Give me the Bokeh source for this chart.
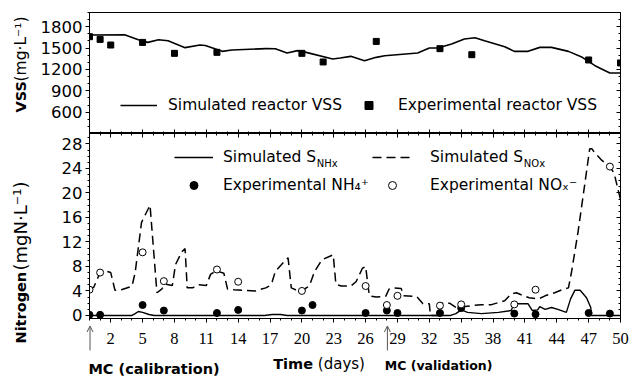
from math import pi

from bokeh.embed import file_html
from bokeh.layouts import column, row
from bokeh.models import (Arrow, FixedTicker, Label, Legend, LegendItem,
                          LinearAxis, OpenHead, Range1d)
from bokeh.plotting import figure
from bokeh.resources import INLINE

# ---------------- data ----------------
# reactor VSS (mg/L)
sim_vss_day = [0, 3.3, 4.6, 5.5, 6.5, 7.4, 9.0, 10.4, 10.9, 12.5, 13.4, 16.6,
               17.5, 18.6, 19.6, 20.4, 22.9, 23.6, 24.6, 25.9, 27.0, 27.8,
               30.9, 32.0, 32.8, 34.1, 35.3, 36.3, 37.2, 39.1, 40.0, 41.3,
               42.4, 43.5, 45.1, 46.4, 47.6, 49.0, 50]
sim_vss = [1684, 1688, 1618, 1580, 1618, 1604, 1506, 1543, 1536, 1454, 1473,
           1492, 1490, 1431, 1464, 1440, 1347, 1360, 1384, 1323, 1370, 1392,
           1431, 1501, 1501, 1557, 1627, 1646, 1604, 1520, 1454, 1454, 1510,
           1510, 1454, 1370, 1253, 1151, 1151]
exp_vss_day = [0, 1, 2, 5, 8, 12, 20, 22, 27, 33, 36, 47, 50]
exp_vss = [1660, 1622, 1543, 1580, 1426, 1440, 1426, 1305, 1594, 1492, 1407,
           1333, 1291]

# simulated nitrate/nitrite S_NOx (mgN/L)
snox_day = [0, 0.4, 0.8, 1.0, 1.6, 2.0, 2.4, 3.0, 4.0, 4.3, 4.9, 5.7, 6.35,
            6.8, 7.1, 7.8, 8.1, 8.7, 9.0, 9.2, 9.7, 10.3, 11.0, 11.4, 11.9,
            12.65, 13.0, 13.6, 15.6, 16.6, 16.9, 17.2, 17.5, 18.5, 18.7, 19.0,
            19.4, 20.05, 20.4, 20.7, 21.2, 21.9, 22.95, 23.2, 23.7, 24.6, 25.1,
            25.7, 26.0, 26.35, 27.0, 27.9, 28.2, 28.5, 29.35, 29.6, 30.8, 31.4,
            32.0, 32.1, 32.9, 33.0, 33.9, 34.5, 35.1, 36.0, 36.9, 37.85, 38.5,
            39.1, 39.7, 40.2, 40.9, 41.4, 42.3, 42.9, 43.8, 44.6, 45.1, 45.4,
            46.0, 46.65, 47.1, 47.3, 47.6, 48.25, 49.0, 49.4, 50]
snox = [4.3, 4.6, 6.2, 7.0, 7.2, 7.0, 4.1, 4.2, 4.75, 7.0, 15.2, 18.0, 3.7,
        4.3, 5.1, 4.9, 8.3, 10.4, 10.9, 4.5, 4.5, 5.0, 4.9, 6.7, 7.3, 6.9,
        4.3, 4.2, 4.0, 4.5, 4.8, 5.5, 7.2, 9.1, 9.4, 4.5, 4.2, 3.9, 4.5, 4.8,
        7.2, 9.1, 9.9, 5.1, 4.8, 4.8, 5.5, 7.7, 8.0, 3.2, 3.0, 3.15, 4.27, 4.5,
        4.4, 3.2, 3.1, 1.9, 1.9, 0.0, 0.0, 2.0, 2.0, 1.3, 1.4, 1.6, 1.76, 1.76,
        2.1, 2.4, 3.5, 3.7, 3.2, 2.9, 2.7, 3.2, 3.7, 4.27, 4.5, 7.2, 13.6,
        21.6, 27.2, 27.2, 26.5, 25.3, 24.3, 23.2, 18.9]

# simulated ammonium S_NHx (mgN/L)
snhx_day = [0, 4.0, 4.3, 4.6, 5.0, 5.6, 6.1, 16.5, 17.2, 18.0, 18.6, 34.0,
            34.5, 35.0, 35.6, 36.9, 38.5, 39.7, 40.0, 41.3, 41.7, 42.2, 42.4,
            42.9, 43.5, 44.1, 44.9, 45.3, 45.7, 46.2, 46.8, 47.2, 47.25, 50]
snhx = [0, 0, 0.3, 0.64, 0.5, 0.15, 0, 0, 0.15, 0.15, 0, 0, 0.3, 0.9, 0.5,
        0.3, 0.5, 0.8, 1.9, 1.9, 0.8, 0.9, 1.44, 1.0, 1.3, 1.0, 0.5, 2.7, 4.1,
        4.1, 2.9, 1.3, 0, 0]

# measured NH4+ and NOx- (mgN/L)
exp_nh4_day = [0, 1, 5, 7, 12, 14, 20, 21, 26, 28, 29, 33, 35, 40, 42, 47, 49]
exp_nh4 = [0.1, 0.1, 1.7, 0.8, 0.4, 0.9, 0.8, 1.7, 0.4, 0.8, 0.4, 0.4, 1.2,
           0.3, 0.2, 0.4, 0.3]
exp_nox_day = [0, 1, 5, 7, 12, 14, 20, 26, 28, 29, 33, 35, 40, 42, 49]
exp_nox = [4.2, 7.0, 10.3, 5.6, 7.5, 5.5, 4.0, 4.8, 1.7, 3.2, 1.6, 1.8, 1.8,
           4.2, 24.3]

# model calibration / validation start days
mc_days = [0, 28]

# axis ticks
day_ticks = list(range(2, 51, 3))
day_minor = list(range(0, 51))
day_labels = [str(d) for d in day_ticks]
vss_ticks = [600, 900, 1200, 1500, 1800]
vss_minor = list(range(300, 2001, 100))
n_ticks = list(range(0, 29, 4))
n_minor = list(range(0, 30))

FONT = "DejaVu Sans"
TICK_FS = "16.5px"
LEG_FS = "15.5px"
PANEL_W = 595   # width of the three stacked x-aligned figures
LEFT = 54       # space left of the plotting frames inside those figures
RIGHT = 10
PX_PER_DAY = (PANEL_W - LEFT - RIGHT) / 50


def free_frame(p):
    # keep this figure's frame out of the layout's frame alignment
    try:
        p.frame_align = False
    except AttributeError:
        pass


def style_axis(ax, labels=True, tin=0, tout=4, min_in=0, min_out=2):
    ax.axis_line_color = "black"
    ax.major_tick_line_color = "black"
    ax.minor_tick_line_color = "black"
    ax.major_tick_in = tin
    ax.major_tick_out = tout
    ax.minor_tick_in = min_in
    ax.minor_tick_out = min_out
    ax.major_label_text_font = FONT
    ax.major_label_text_color = "black"
    if labels:
        ax.major_label_text_font_size = TICK_FS
    else:
        # tick marks only
        ax.major_label_text_font_size = "0px"
        ax.major_label_text_color = None
        ax.major_label_standoff = 0


def base_fig(height, y_range, border_top, border_bottom):
    p = figure(width=PANEL_W, height=height, x_range=Range1d(0, 50),
               y_range=y_range, output_backend="svg", toolbar_location=None,
               min_border_left=LEFT, min_border_right=RIGHT,
               min_border_top=border_top, min_border_bottom=border_bottom)
    p.grid.visible = False
    p.outline_line_color = "black"
    p.background_fill_color = "white"
    p.border_fill_color = "white"
    return p


# ---------------- VSS panel ----------------
top = base_fig(133, Range1d(300, 2000), 12, 0)
top.xaxis.ticker = FixedTicker(ticks=day_ticks, minor_ticks=day_minor)
style_axis(top.xaxis[0], labels=False, tin=4, tout=0, min_in=2, min_out=0)
top.yaxis.ticker = FixedTicker(ticks=vss_ticks, minor_ticks=vss_minor)
style_axis(top.yaxis[0], labels=True, tin=0, tout=4, min_in=0, min_out=2)
top.yaxis.major_label_standoff = 3
r_vss_ax = LinearAxis(ticker=FixedTicker(ticks=vss_ticks, minor_ticks=vss_minor))
style_axis(r_vss_ax, labels=False, tin=4, tout=0, min_in=2, min_out=0)
top.add_layout(r_vss_ax, "right")

vss_line = top.line(sim_vss_day, sim_vss, line_color="black", line_width=1.6)
vss_pts = top.scatter(exp_vss_day, exp_vss, marker="square", size=6,
                      fill_color="black", line_color="black")

for item, xloc in [(LegendItem(label="Simulated reactor VSS", renderers=[vss_line]), 31),
                   (LegendItem(label="Experimental reactor VSS", renderers=[vss_pts]), 261)]:
    top.add_layout(Legend(items=[item], location=(xloc, 18), glyph_width=37,
                          glyph_height=20, label_height=20, label_standoff=11,
                          padding=0, margin=0, border_line_alpha=0,
                          background_fill_alpha=0, label_text_font=FONT,
                          label_text_font_size=LEG_FS,
                          label_text_color="black"))

# ---------------- nitrogen panel ----------------
bot = base_fig(192, Range1d(-0.5, 29.7), 0, 7)
bot.xaxis.ticker = FixedTicker(ticks=day_ticks, minor_ticks=day_minor)
style_axis(bot.xaxis[0], labels=False, tin=0, tout=4, min_in=0, min_out=2)
bot.yaxis.ticker = FixedTicker(ticks=n_ticks, minor_ticks=n_minor)
style_axis(bot.yaxis[0], labels=True, tin=0, tout=4, min_in=0, min_out=2)
bot.yaxis.major_label_standoff = 3
t_ax = LinearAxis(ticker=FixedTicker(ticks=day_ticks, minor_ticks=day_minor))
style_axis(t_ax, labels=False, tin=4, tout=0, min_in=2, min_out=0)
bot.add_layout(t_ax, "above")
r_n_ax = LinearAxis(ticker=FixedTicker(ticks=n_ticks, minor_ticks=n_minor))
style_axis(r_n_ax, labels=False, tin=4, tout=0, min_in=2, min_out=0)
bot.add_layout(r_n_ax, "right")

nox_line = bot.line(snox_day, snox, line_color="black", line_width=1.5,
                    line_dash="9 5")
nhx_line = bot.line(snhx_day, snhx, line_color="black", line_width=1.4)
nh4_pts = bot.scatter(exp_nh4_day, exp_nh4, marker="circle", size=7,
                      fill_color="black", line_color="black")
nox_pts = bot.scatter(exp_nox_day, exp_nox, marker="circle", size=7,
                      fill_color="white", line_color="black", line_width=1)

leg_kw = dict(glyph_height=20, label_height=20, padding=0, margin=0,
              spacing=8, border_line_alpha=0, background_fill_alpha=0,
              label_text_font=FONT, label_text_font_size=LEG_FS,
              label_text_color="black")
bot.add_layout(Legend(items=[LegendItem(label="Simulated S", renderers=[nhx_line]),
                             LegendItem(label="Experimental NH₄⁺", renderers=[nh4_pts])],
                      location=(85, 123), glyph_width=39, label_standoff=10,
                      **leg_kw))
bot.add_layout(Legend(items=[LegendItem(label="Simulated S", renderers=[nox_line]),
                             LegendItem(label="Experimental NOₓ⁻", renderers=[nox_pts])],
                      location=(283, 123), glyph_width=40, label_standoff=18,
                      **leg_kw))

# subscripts of the state-variable names
for xs, txt in [(21.4, "NHx"), (40.9, "NOx")]:
    bot.add_layout(Label(x=xs, y=24.88, text=txt, text_font=FONT,
                         text_font_size="10px", text_align="left",
                         text_baseline="middle", text_color="black"))

# ---------------- strip under the nitrogen panel ----------------
# x in days (same scale as the panels), y in pixels from the top of the strip
STRIP_H = 376 - 133 - 192
strip = figure(width=PANEL_W, height=STRIP_H,
               x_range=Range1d(-LEFT / PX_PER_DAY, 50 + RIGHT / PX_PER_DAY),
               y_range=Range1d(STRIP_H, 0), output_backend="svg",
               toolbar_location=None, min_border=0)
free_frame(strip)
strip.axis.visible = False
strip.grid.visible = False
strip.outline_line_color = None
strip.text(x=day_ticks, y=[12.5] * len(day_ticks), text=day_labels,
           text_font=FONT, text_font_size=TICK_FS, text_align="center",
           text_baseline="middle", text_color="black")
for xd in mc_days:
    strip.add_layout(Arrow(end=OpenHead(size=6, line_color="#555555",
                                        line_width=1),
                           x_start=xd + 0.05, y_start=25, x_end=xd + 0.05,
                           y_end=0.5, line_color="#555555", line_width=1))
strip.add_layout(Label(x=mc_days[0] - 0.1, y=43, text="MC (calibration)",
                       text_font=FONT, text_font_style="bold",
                       text_font_size="14.5px", text_align="left",
                       text_baseline="middle", text_color="black"))
strip.add_layout(Label(x=mc_days[1] - 0.2, y=40, text="MC (validation)",
                       text_font=FONT, text_font_style="bold",
                       text_font_size="12.5px", text_align="left",
                       text_baseline="middle", text_color="black"))
strip.add_layout(Label(x=17.3, y=38, text="Time", text_font=FONT,
                       text_font_style="bold", text_font_size="14.5px",
                       text_align="left", text_baseline="middle",
                       text_color="black"))
strip.add_layout(Label(x=21.5, y=38, text="(days)", text_font=FONT,
                       text_font_size="15px", text_align="left",
                       text_baseline="middle", text_color="black"))

# ---------------- vertical axis titles ----------------
# coordinates in pixels, y measured from the top
lab = figure(width=35, height=376, x_range=Range1d(0, 35),
             y_range=Range1d(376, 0), output_backend="svg",
             toolbar_location=None, min_border=0)
free_frame(lab)
lab.axis.visible = False
lab.grid.visible = False
lab.outline_line_color = None
for y0, txt, style, fs in [(112, "VSS", "bold", "14.5px"),
                           (81, "(mg·L⁻¹)", "normal", "15.5px"),
                           (343, "Nitrogen", "bold", "14.5px"),
                           (270, "(mgN·L⁻¹)", "normal", "18px")]:
    lab.add_layout(Label(x=20, y=y0, text=txt, angle=pi / 2, text_font=FONT,
                         text_font_style=style, text_font_size=fs,
                         text_align="left", text_baseline="middle",
                         text_color="black"))

layout = row(lab, column(top, bot, strip, spacing=0), spacing=0)
open("out.html", "w").write(file_html(layout, INLINE))
